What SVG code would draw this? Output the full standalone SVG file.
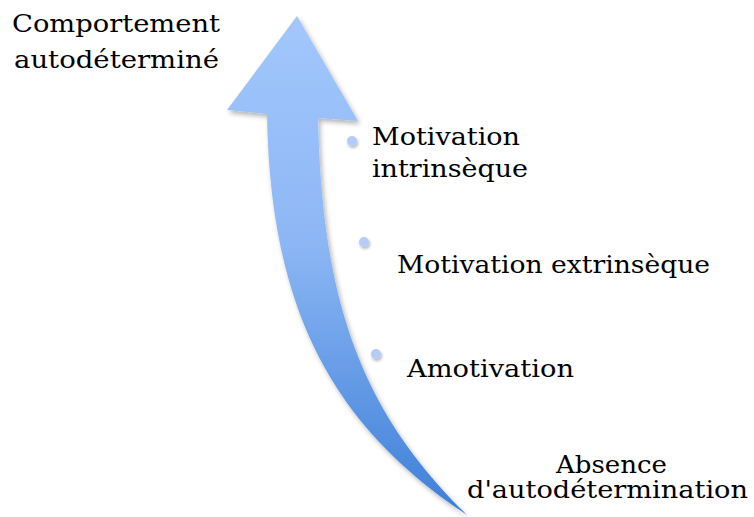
<svg xmlns="http://www.w3.org/2000/svg" width="754" height="517" viewBox="0 0 754 517">
<defs>
<linearGradient id="g" x1="0" y1="16" x2="0" y2="515" gradientUnits="userSpaceOnUse">
<stop offset="0" stop-color="#A3C7FD"/>
<stop offset="0.45" stop-color="#8DB7F4"/>
<stop offset="1" stop-color="#3D7FD8"/>
</linearGradient>
<filter id="sh" x="-20%" y="-20%" width="140%" height="140%">
<feDropShadow dx="2" dy="3" stdDeviation="2.5" flood-color="#000" flood-opacity="0.3"/>
</filter>
<filter id="dsh" x="-100%" y="-100%" width="300%" height="300%">
<feDropShadow dx="1" dy="2" stdDeviation="1.5" flood-color="#000" flood-opacity="0.3"/>
</filter>
</defs>
<style>
text{font-family:"DejaVu Serif","Liberation Serif",serif;font-size:25px;fill:#000}
.dot{fill:#B5CDF6;filter:url(#dsh)}
</style>
<g id="connectors">
<path id="arrow" d="M 467 515 C 340 430, 270 320, 267 114 L 227 110 L 297 16 L 358 121 L 318 118 C 322 300, 360 410, 467 515 Z" fill="url(#g)" filter="url(#sh)"/>
</g>
<g id="top">
<text x="12" y="32" textLength="208" lengthAdjust="spacingAndGlyphs">Comportement</text>
<text x="14" y="68" textLength="205" lengthAdjust="spacingAndGlyphs">autodéterminé</text>
</g>
<g id="intrinseque">
<circle class="dot" cx="352" cy="141" r="5"/>
<text x="372" y="145" textLength="148" lengthAdjust="spacingAndGlyphs">Motivation</text>
<text x="372" y="177" textLength="156" lengthAdjust="spacingAndGlyphs">intrinsèque</text>
</g>
<g id="extrinseque">
<circle class="dot" cx="364" cy="242" r="5"/>
<text x="397" y="273" textLength="313" lengthAdjust="spacingAndGlyphs">Motivation extrinsèque</text>
</g>
<g id="amotivation">
<circle class="dot" cx="376" cy="354" r="5"/>
<text x="407" y="377" textLength="167" lengthAdjust="spacingAndGlyphs">Amotivation</text>
</g>
<g id="absence">
<text x="556" y="473" textLength="111" lengthAdjust="spacingAndGlyphs">Absence</text>
<text x="467" y="498" textLength="281" lengthAdjust="spacingAndGlyphs">d'autodétermination</text>
</g>
</svg>
